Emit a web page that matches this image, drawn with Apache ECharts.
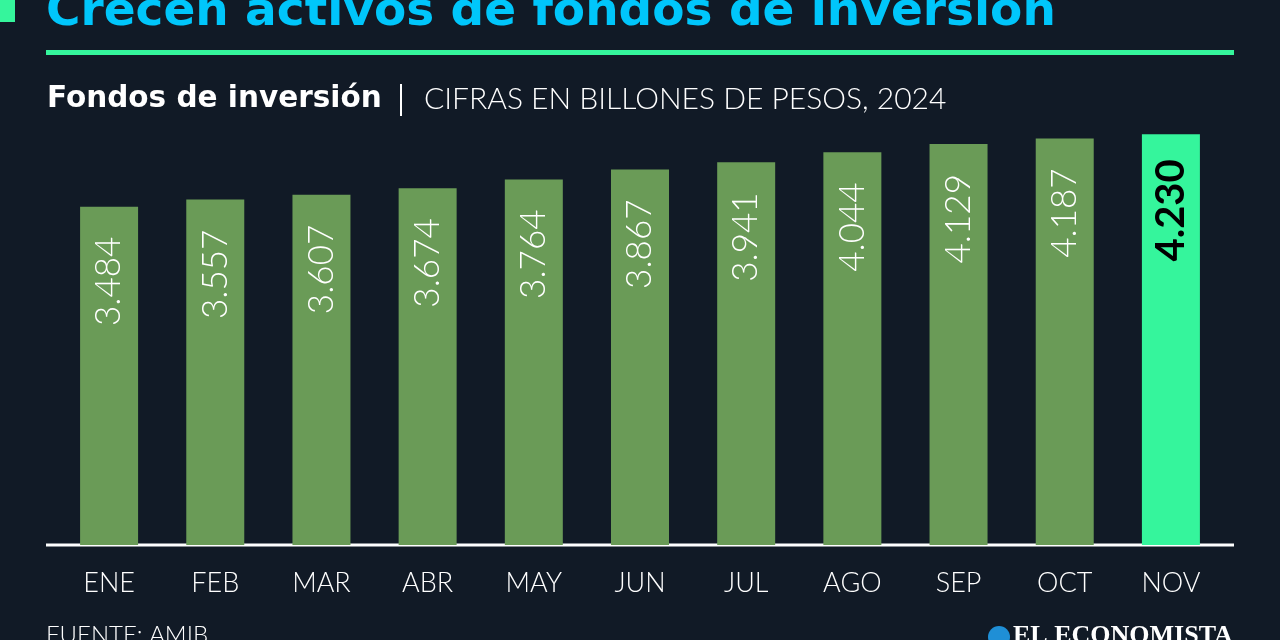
<!DOCTYPE html>
<html>
<head>
<meta charset="utf-8">
<script src="https://cdn.jsdelivr.net/npm/echarts@6/dist/echarts.min.js"></script>
<style>
html,body{margin:0;padding:0;background:#111a26;}
#c{width:1280px;height:640px;}
</style>
</head>
<body>
<div id="c"></div>
<script>
const categories = ['ENE','FEB','MAR','ABR','MAY','JUN','JUL','AGO','SEP','OCT','NOV'];
const values = [3.484,3.557,3.607,3.674,3.764,3.867,3.941,4.044,4.129,4.187,4.230];
const titleText = 'Crecen activos de fondos de inversión';
const subtitleBold = 'Fondos de inversión';
const subtitleLight = 'CIFRAS EN BILLONES DE PESOS, 2024';
const sourceText = 'FUENTE: AMIB';
const brandText = 'EL ECONOMISTA';

const BG = '#111a26';
const BAR = '#6a9b57';
const HI = '#35f59c';
const CYAN = '#00c6fb';

const chart = echarts.init(document.getElementById('c'), null, {renderer:'canvas'});
const lastIdx = values.length - 1;

chart.setOption({
  backgroundColor: BG,
  animation: false,
  grid: {left: 56, right: 56, top: 59.5, bottom: 95, containLabel: false},
  xAxis: {
    type: 'category',
    data: categories,
    axisLine: {show: false},
    axisTick: {show: false},
    axisLabel: {color: '#ffffff', fontFamily: 'Lato', fontWeight: 300, fontSize: 27, margin: 25}
  },
  yAxis: {
    type: 'value', min: 0, max: 5,
    show: false,
    splitLine: {show: false}
  },
  series: [{
    type: 'bar',
    barWidth: 58,
    data: values.map((v, i) => ({
      value: v,
      itemStyle: {color: i === lastIdx ? HI : BAR},
      label: i === lastIdx ? {
        color: '#000000', fontWeight: 'bold', fontSize: 40, distance: 25
      } : {}
    })),
    label: {
      show: true,
      position: 'insideTop',
      rotate: 90,
      align: 'right',
      verticalAlign: 'middle',
      distance: 30,
      color: '#ffffff',
      fontFamily: 'Lato',
      fontWeight: 300,
      fontSize: 35,
      formatter: p => p.value.toFixed(3)
    }
  }],
  graphic: [
    {type: 'rect', shape: {x: 0, y: 0, width: 15, height: 22}, style: {fill: HI}},
    {type: 'text', x: 46, y: 36, style: {text: titleText, fill: CYAN, font: 'bold 47px "DejaVu Sans"', textVerticalAlign: 'bottom'}},
    {type: 'rect', shape: {x: 46, y: 50, width: 1188, height: 5}, style: {fill: HI}},
    {type: 'text', x: 47, y: 99, style: {text: subtitleBold, fill: '#ffffff', font: 'bold 29.5px "DejaVu Sans"', textVerticalAlign: 'middle'}},
    {type: 'rect', shape: {x: 400, y: 84, width: 2, height: 32}, style: {fill: '#ffffff'}},
    {type: 'text', x: 424, y: 99, style: {text: subtitleLight, fill: '#ffffff', font: '300 30px Lato', textVerticalAlign: 'middle'}},
    {type: 'rect', shape: {x: 46, y: 543.5, width: 1188, height: 3}, style: {fill: '#ffffff'}},
    {type: 'text', x: 46, y: 623, style: {text: sourceText, fill: '#ffffff', font: '300 24px Lato'}},
    {type: 'circle', shape: {cx: 999, cy: 637, r: 11}, style: {fill: '#1f8fd6'}},
    {type: 'text', x: 1013, y: 623, style: {text: brandText, fill: '#ffffff', font: 'bold 26px "Liberation Serif"'}}
  ]
});
</script>
</body>
</html>
